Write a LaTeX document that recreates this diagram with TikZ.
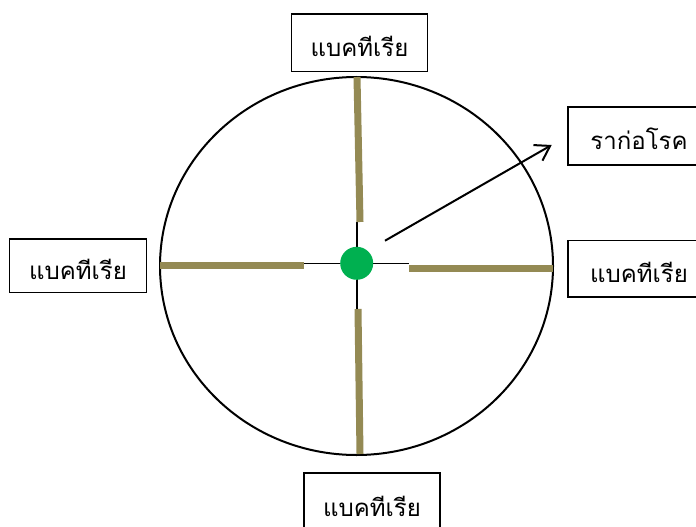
\documentclass[tikz,border=0pt]{standalone}
\usepackage{fontspec}
\newfontfamily\thaifont[Script=Thai]{Loma}
\usetikzlibrary{arrows.meta}
\definecolor{barolive}{HTML}{948A54}
\definecolor{dotgreen}{HTML}{00B050}
\newcommand{\lowtxt}[1]{\raisebox{-3pt}[\height][\depth]{#1}}
\begin{document}
\begin{tikzpicture}[x=1pt,y=-1pt,
  box/.style={draw, line width=1.3pt, inner sep=0pt, align=center,
    font=\thaifont\fontsize{24}{28}\selectfont},
  bar/.style={barolive, line width=7pt},
  thin/.style={line width=1.2pt}]
\useasboundingbox (0,0) rectangle (696,527);
\clip (0,0) rectangle (696,527);
% cell
\draw[line width=2pt] (356.5,266) ellipse [x radius=196.5, y radius=189];
% boxes
\node[box, minimum width=135.6pt, minimum height=57.7pt] (btop) at (359.5,42.9) {\lowtxt{แบคทีเรีย}};
\node[box, minimum width=142pt, minimum height=58pt] (broot) at (639,136) {\lowtxt{ราก่อโรค}};
\node[box, minimum width=142pt, minimum height=56.3pt] (bright) at (639,268.9) {\lowtxt{แบคทีเรีย}};
\node[box, minimum width=137.4pt, minimum height=53.7pt] (bleft) at (78,265.9) {\lowtxt{แบคทีเรีย}};
\node[box, minimum width=136pt, minimum height=60pt] (bbottom) at (372,503) {\lowtxt{แบคทีเรีย}};
% coordinates
\coordinate (vt) at (357,222);
\coordinate (vb) at (357,309);
\coordinate (hl) at (303,263.5);
\coordinate (hr) at (409,263.5);
\draw[thin] (vt) -- (vb);
\draw[thin] (hl) -- (hr);
% bars
\coordinate (t1) at (357,77); \coordinate (t2) at (360,222);
\coordinate (d1) at (358,309); \coordinate (d2) at (360,454);
\coordinate (l1) at (160,265.7); \coordinate (l2) at (304,265.7);
\coordinate (r1) at (409,268); \coordinate (r2) at (553,268);
\draw[bar] (t1) -- (t2);
\draw[bar] (d1) -- (d2);
\draw[bar] (l1) -- (l2);
\draw[bar] (r1) -- (r2);
% nucleus
\node[circle, fill=dotgreen, minimum size=33pt, inner sep=0pt] (dot) at (356.7,263.3) {};
% arrow
\coordinate (as) at (385,240.7);
\coordinate (ae) at (551.7,145);
\draw[line width=2pt, -{Straight Barb[length=14pt,width=18pt]}] (as) -- (ae);
\end{tikzpicture}
\end{document}
